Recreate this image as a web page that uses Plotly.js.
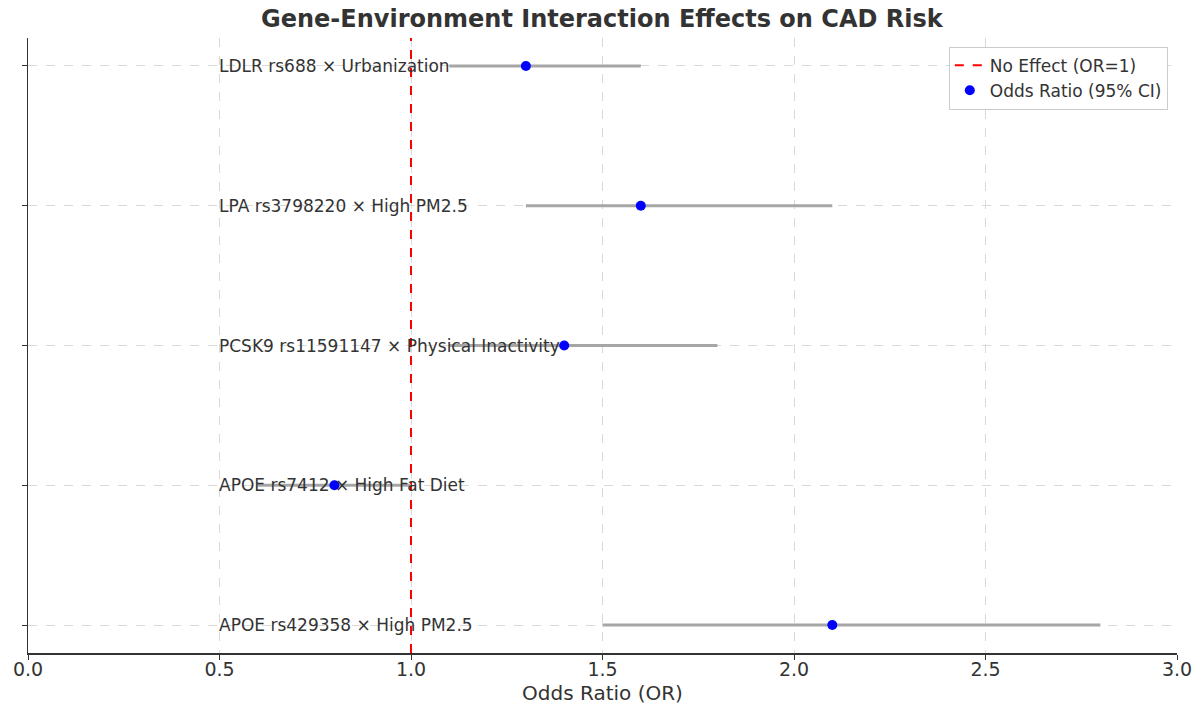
<!DOCTYPE html>
<html>
<head>
<meta charset="utf-8">
<script src="https://cdn.plot.ly/plotly-3.0.1.min.js"></script>
<style>html,body{margin:0;padding:0;background:#fff;}#chart{width:1196px;height:709px;}</style>
</head>
<body>
<div id="chart"></div>
<script>
const labels = [
  "APOE rs429358 × High PM2.5",
  "APOE rs7412 × High Fat Diet",
  "PCSK9 rs11591147 × Physical Inactivity",
  "LPA rs3798220 × High PM2.5",
  "LDLR rs688 × Urbanization"
];
const oddsRatio = [2.1, 0.8, 1.4, 1.6, 1.3];
const ciLower = [1.5, 0.6, 1.1, 1.3, 1.1];
const ciUpper = [2.8, 1.0, 1.8, 2.1, 1.6];
const xTicks = [0.0, 0.5, 1.0, 1.5, 2.0, 2.5, 3.0];

const ypos = labels.map((_, i) => i);
const font = "DejaVu Sans, Liberation Sans, sans-serif";

const traces = [
  {
    x: [1, 1], y: [-0.2, 4.2], mode: "lines", name: "No Effect (OR=1)",
    line: {color: "#ff0000", width: 2, dash: "dash"}, hoverinfo: "skip"
  },
  {
    x: oddsRatio, y: ypos, mode: "markers", name: "Odds Ratio (95% CI)",
    marker: {color: "#0000ff", size: 10},
    error_x: {
      type: "data", symmetric: false,
      array: oddsRatio.map((v, i) => ciUpper[i] - v),
      arrayminus: oddsRatio.map((v, i) => v - ciLower[i]),
      color: "#a6a6a6", thickness: 3, width: 0
    }
  }
];

const annotations = labels.map((t, i) => ({
  x: 0.5, y: i, xref: "x", yref: "y", text: t, showarrow: false, xshift: -3,
  xanchor: "left", yanchor: "middle", font: {family: font, size: 17, color: "#333"}
}));
annotations.push({
  text: "<b>Gene-Environment Interaction Effects on CAD Risk</b>",
  xref: "paper", yref: "paper", x: 0.5, y: 1, yshift: 19, showarrow: false,
  xanchor: "center", yanchor: "middle", font: {family: font, size: 24, color: "#333"}
});

const layout = {
  width: 1196, height: 709,
  margin: {l: 28, r: 19, t: 38, b: 56},
  paper_bgcolor: "#fff", plot_bgcolor: "#fff",
  font: {family: font, color: "#333"},
  showlegend: true,
  legend: {
    x: 0.992, y: 0.986, xanchor: "right", yanchor: "top",
    bgcolor: "#fff", bordercolor: "#cccccc", borderwidth: 1,
    font: {family: font, size: 17, color: "#333"}, itemwidth: 30
  },
  xaxis: {
    range: [0, 3], tickvals: xTicks, ticktext: xTicks.map(v => v.toFixed(1)),
    showline: true, linecolor: "#333", linewidth: 1.5, mirror: false,
    ticks: "outside", ticklen: 5, tickcolor: "#333", ticklabelstandoff: -6,
    showgrid: true, gridcolor: "#d9d9d9", griddash: "dash", gridwidth: 1,
    zeroline: false, tickfont: {size: 19, color: "#333"},
    title: {text: "Odds Ratio (OR)", font: {size: 20, color: "#333"}, standoff: 6}
  },
  yaxis: {
    range: [-0.2, 4.2], tickvals: ypos, ticktext: ypos.map(() => ""),
    showline: true, linecolor: "#333", linewidth: 1.5,
    ticks: "outside", ticklen: 5, tickcolor: "#333",
    showgrid: true, gridcolor: "#d9d9d9", griddash: "dash", gridwidth: 1,
    zeroline: false
  },
  annotations: annotations
};

Plotly.newPlot("chart", traces, layout, {displayModeBar: false, staticPlot: true});
</script>
</body>
</html>
